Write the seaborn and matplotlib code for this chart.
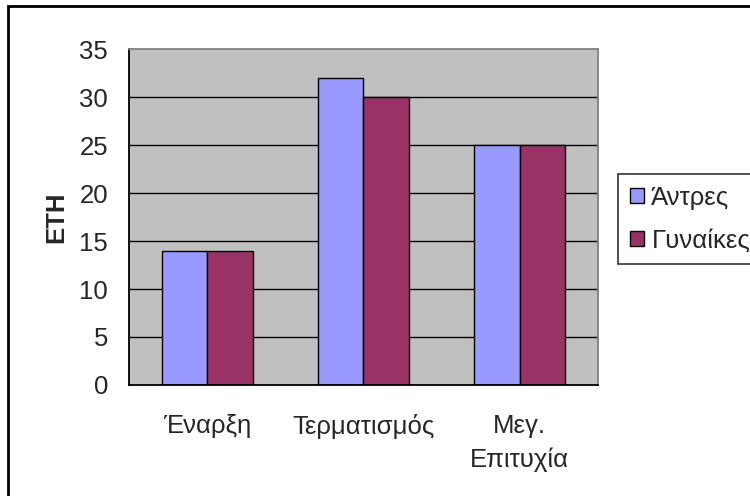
import pandas as pd
import seaborn as sns
import matplotlib.pyplot as plt
from matplotlib.patches import Rectangle

categories = ['Έναρξη', 'Τερματισμός', 'Μεγ.\nΕπιτυχία']
series = ['Άντρες', 'Γυναίκες']
men = [14, 32, 25]
women = [14, 30, 25]
yticks = [0, 5, 10, 15, 20, 25, 30, 35]

df = pd.DataFrame({
    'cat': categories * 2,
    'group': [series[0]] * 3 + [series[1]] * 3,
    'value': men + women,
})

sns.set_style('white')
plt.rcParams['font.family'] = ['Liberation Sans', 'DejaVu Sans']
fs = 18.5

fig = plt.figure(figsize=(7.5, 4.96), dpi=100)
ax = fig.add_axes([129 / 750, 1 - 385 / 496, (598 - 129) / 750, (385 - 49) / 496])

sns.barplot(data=df, x='cat', y='value', hue='group', order=categories,
            hue_order=series, palette=['#9999FF', '#993366'], width=0.58,
            edgecolor='black', linewidth=1, saturation=1, ax=ax, legend=True)

ax.set_facecolor('#C0C0C0')
ax.set_xlim(-0.5, 2.5)
ax.set_ylim(0, 35)
ax.set_yticks(yticks)
ax.set_yticklabels([str(t) for t in yticks], fontsize=fs)
ax.tick_params(axis='y', direction='out', length=6, width=1, color='black', pad=9)
for t in yticks[1:-1]:
    ax.axhline(t, color='black', lw=1, zorder=0.5)

# ticks on category boundaries, labels centred under the bars
ax.set_xticks([-0.5, 0.5, 1.5, 2.5])
ax.set_xticklabels([])
ax.tick_params(axis='x', which='major', direction='out', length=6, width=1, color='black')
ax.set_xticks([0, 1, 2], minor=True)
ax.set_xticklabels(categories, minor=True, fontsize=fs, linespacing=1.5, va='top')
ax.tick_params(axis='x', which='minor', length=0, pad=21)

ax.set_xlabel('')
ax.set_ylabel('ΕΤΗ', fontsize=fs, fontweight='bold', labelpad=8)

for side in ['left', 'bottom']:
    ax.spines[side].set_color('black')
    ax.spines[side].set_linewidth(1.3)
for side in ['top', 'right']:
    ax.spines[side].set_visible(True)
    ax.spines[side].set_color('#808080')
    ax.spines[side].set_linewidth(1.3)

handles, labels = ax.get_legend_handles_labels()
ax.get_legend().remove()
leg = fig.legend(handles, labels, loc='upper left', bbox_to_anchor=(618 / 750, 1 - 174 / 496),
                 fontsize=fs, frameon=True, fancybox=False, edgecolor='black',
                 handlelength=0.55, handleheight=0.55, handletextpad=0.3,
                 labelspacing=0.75, borderpad=0.45, borderaxespad=0)
leg.get_frame().set_linewidth(1.2)

fig.patches.append(Rectangle((8 / 750, -0.1), 1.2, 1.1 - 6 / 496, transform=fig.transFigure,
                             fill=False, edgecolor='black', linewidth=2))

fig.savefig('out.png', dpi=100)
